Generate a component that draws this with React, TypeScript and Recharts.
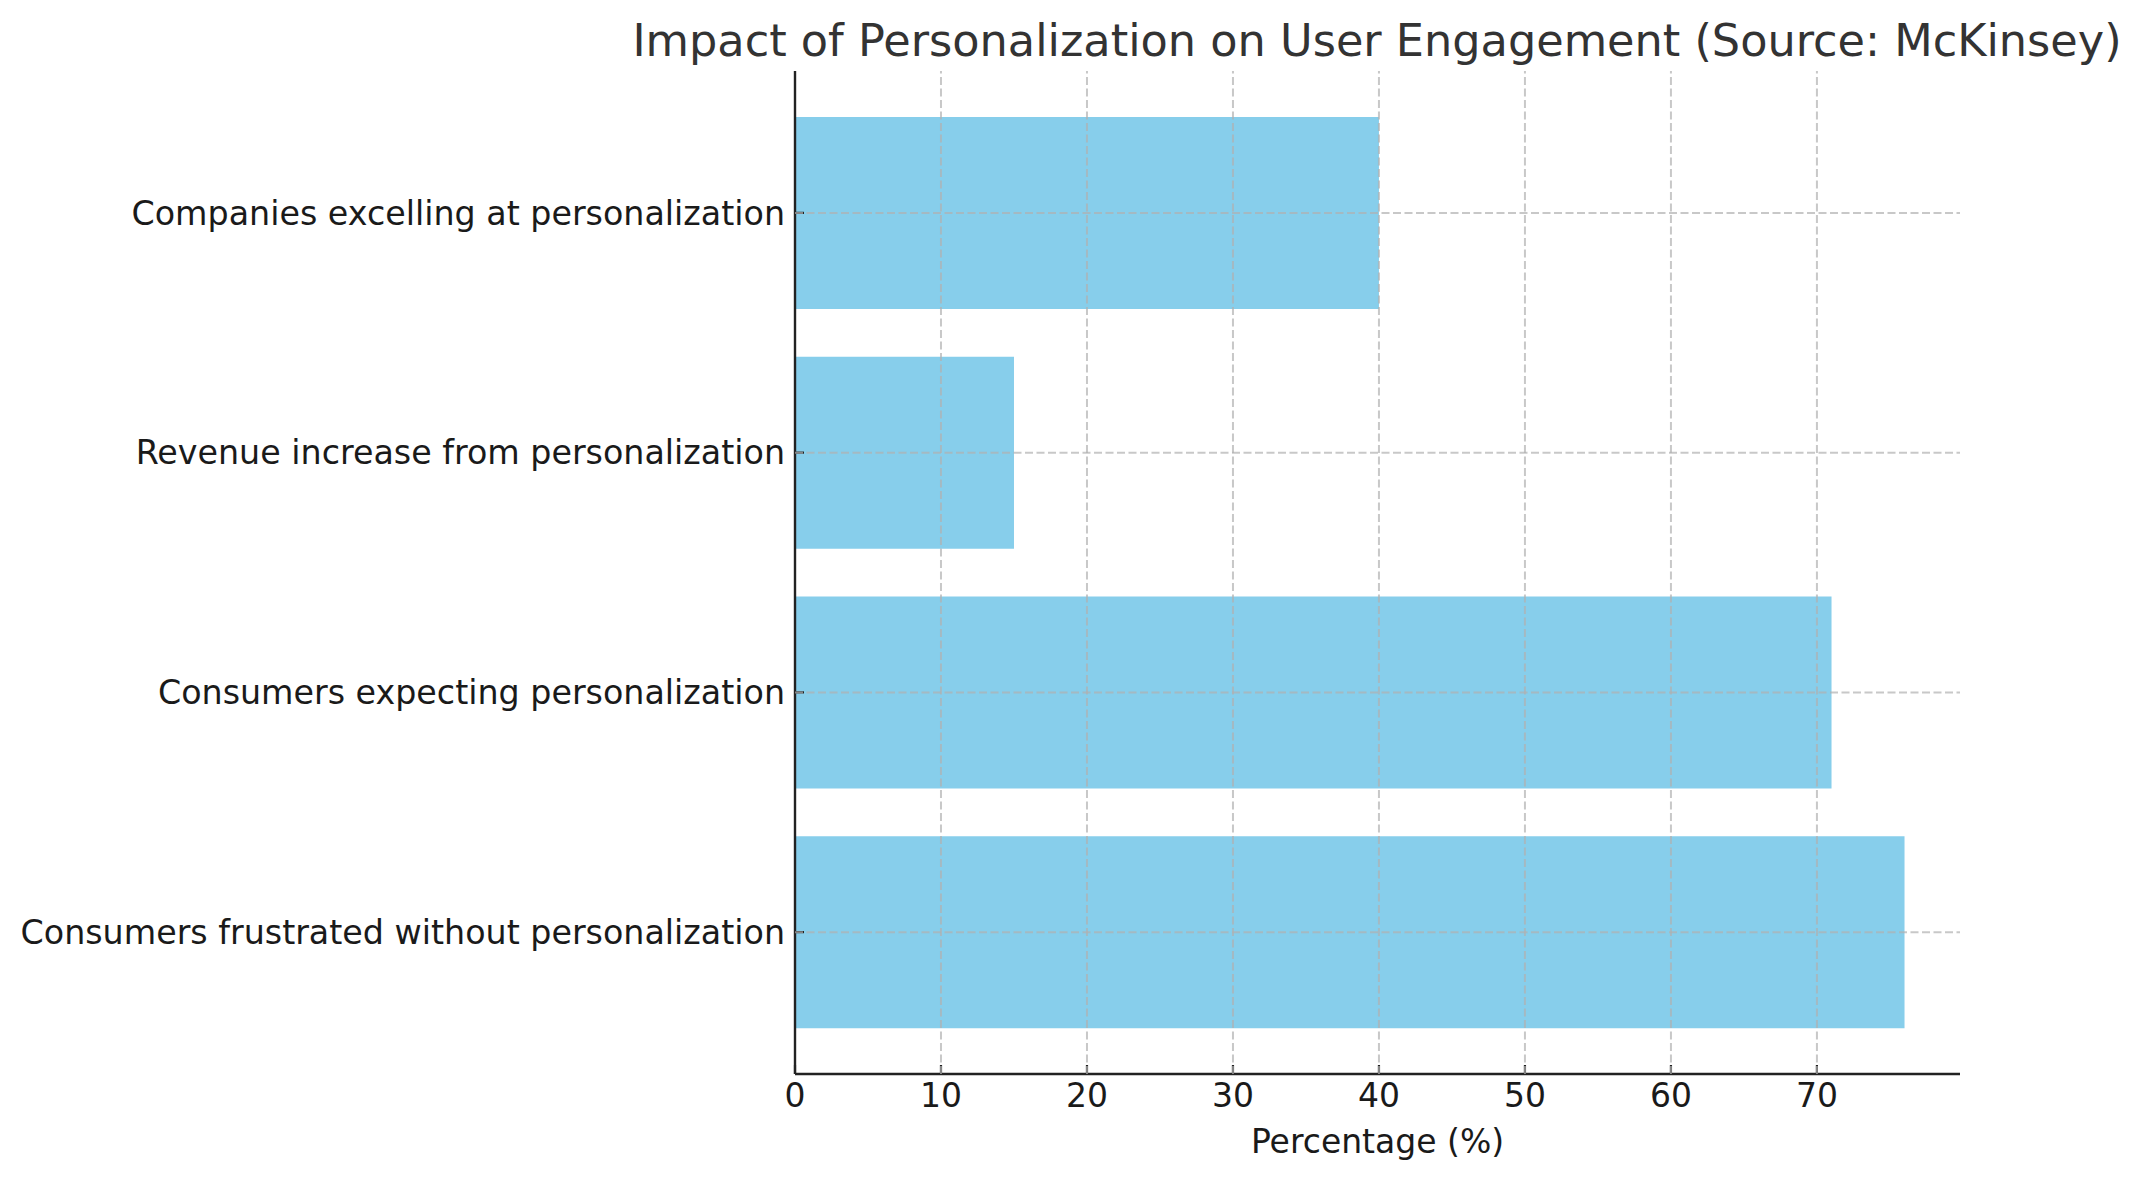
import { BarChart, Bar, XAxis, YAxis, ReferenceLine } from "recharts";

const categories = [
  "Consumers frustrated without personalization",
  "Consumers expecting personalization",
  "Revenue increase from personalization",
  "Companies excelling at personalization",
];
const percentages = [76, 71, 15, 40];
const xTicks = [0, 10, 20, 30, 40, 50, 60, 70];

const data = categories.map((name, i) => ({ name, value: percentages[i] }));

const font = "'DejaVu Sans', sans-serif";
const gridStyle = {
  stroke: "#b0b0b0",
  strokeOpacity: 0.7,
  strokeWidth: 2,
  strokeDasharray: "8 3.5",
};

export default function App() {
  return (
    <div
      style={{
        position: "absolute",
        left: 0,
        top: 0,
        width: 2140,
        height: 1180,
        background: "#fff",
        overflow: "hidden",
      }}
    >
      <div
        style={{
          position: "absolute",
          left: 307,
          width: 2140,
          top: 14,
          textAlign: "center",
          fontFamily: font,
          fontSize: 44.6,
          lineHeight: "54px",
          color: "#333",
          whiteSpace: "nowrap",
        }}
      >
        Impact of Personalization on User Engagement (Source: McKinsey)
      </div>
      <BarChart
        width={2140}
        height={1180}
        data={data}
        layout="vertical"
        barCategoryGap="10%"
        margin={{ top: 71, right: 180, bottom: 0, left: 0 }}
      >
        <XAxis
          type="number"
          domain={[0, 79.8]}
          ticks={xTicks}
          allowDataOverflow
          height={106}
          axisLine={{ stroke: "#222", strokeWidth: 2.4 }}
          tickLine={{ stroke: "#222", strokeWidth: 2.2 }}
          tickSize={-9}
          tickMargin={19}
          tick={{ fill: "#1a1a1a", fontSize: 33, fontFamily: font }}
          label={{
            value: "Percentage (%)",
            position: "insideBottom",
            offset: 27,
            fill: "#1a1a1a",
            fontSize: 33,
            fontFamily: font,
          }}
        />
        <YAxis
          type="category"
          dataKey="name"
          reversed
          width={795}
          padding={{ top: 22, bottom: 22 }}
          axisLine={{ stroke: "#222", strokeWidth: 2.4 }}
          tickLine={{ stroke: "#222", strokeWidth: 2.2 }}
          tickSize={-9}
          tickMargin={19}
          interval={0}
          tick={{ fill: "#1a1a1a", fontSize: 33.3, fontFamily: font }}
        />
        <Bar dataKey="value" fill="#87CEEB" isAnimationActive={false} />
        {xTicks.slice(1).map((t) => (
          <ReferenceLine key={`x${t}`} x={t} zIndex={700} {...gridStyle} />
        ))}
        {categories.map((c) => (
          <ReferenceLine key={c} y={c} zIndex={700} {...gridStyle} />
        ))}
      </BarChart>
    </div>
  );
}
